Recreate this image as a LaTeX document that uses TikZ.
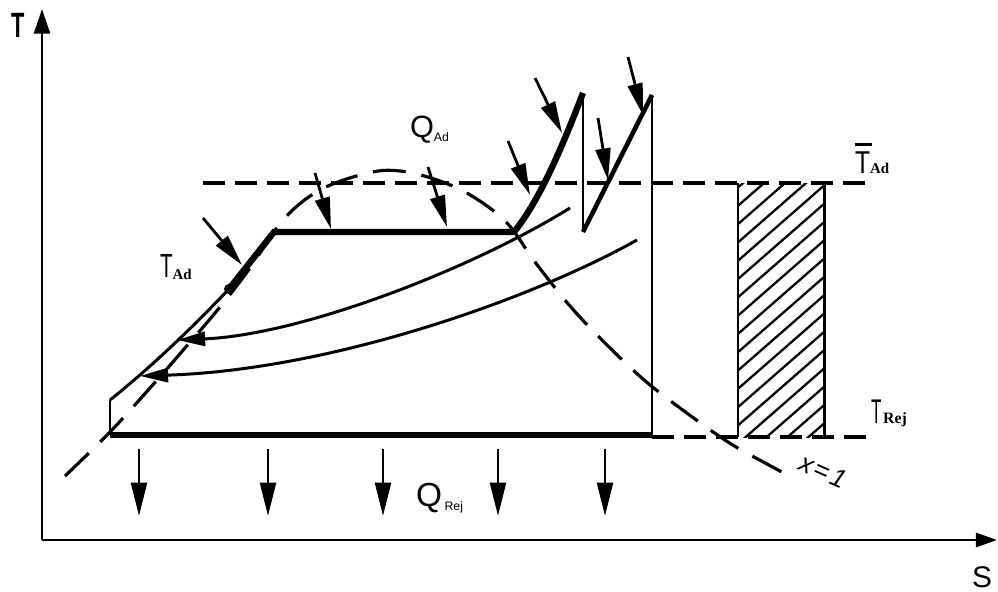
\documentclass[tikz,border=0pt]{standalone}
\usepackage{fontspec}
\setmainfont{Liberation Sans}
\newfontfamily\serifb{Liberation Serif}
\usetikzlibrary{arrows.meta}
\tikzset{
  axisln/.style={line width=1.7pt},
  thinln/.style={line width=1.7pt},
  medln/.style={line width=2.6pt},
  thickln/.style={line width=3.6pt},
  dashln/.style={line width=1.8pt, dash pattern=on 0.44cm off 0.2cm},
  domeln/.style={line width=1.8pt, dash pattern=on 0.66cm off 0.32cm},
  hatchln/.style={line width=1.3pt},
  qarrow/.style={line width=1.6pt, -{Triangle[length=18pt,width=8.5pt]}},
  rejarrow/.style={line width=1.7pt, -{Triangle[length=19pt,width=9pt]}},
  flowarrow/.style={line width=1.7pt, -{Triangle[length=16pt,width=8pt]}},
  lab/.style={anchor=base west, inner sep=0pt, outer sep=0pt}
}
\begin{document}
\begin{tikzpicture}[x=0.02cm, y=-0.02cm]
\useasboundingbox (0,0) rectangle (998,592);

% axes
\coordinate (O) at (42,540);
\coordinate (Ttop) at (42,9);
\coordinate (Send) at (997,540);
\draw[axisln, -{Triangle[length=14pt,width=9pt]}] (O) -- (Ttop);
\draw[axisln, -{Triangle[length=12pt,width=8pt]}] (O) -- (Send);
\node[lab] (Tlab) at (11,37) {\fontsize{20}{20}\selectfont\bfseries\scalebox{0.62}[1]{T}};
\node[lab] (Slab) at (972,587) {\fontsize{17}{17}\selectfont S};

% key points
\coordinate (A) at (110,435);
\coordinate (B) at (110,400);
\coordinate (C) at (229,289);
\coordinate (D) at (274,232);
\coordinate (E) at (514,232);
\coordinate (F) at (583,93);
\coordinate (G) at (583,232);
\coordinate (H) at (652,95);
\coordinate (I) at (652,435);

% saturation dome
\draw[domeln] plot[smooth, tension=0.6] coordinates {
 (65,476) (110,432) (150,388) (185,348) (220,307) (250,268) (283,220)
 (320,190) (368,173) (400,171) (437,180) (472,196) (507,223) (535,262)
 (570,306) (605,343) (643,379) (680,408) (728,442) (767,464) (795,479)};

% dashed temperature levels
\coordinate (TadL) at (203,183);
\coordinate (TadR) at (868,183);
\coordinate (TrejL) at (652,437);
\coordinate (TrejR) at (867,437);
\draw[dashln] (TadL) -- (TadR);
\draw[dashln] (TrejL) -- (TrejR);

% cycle outline
\draw[thinln] (A) -- (B);
\draw[thinln] (B) .. controls (150,368) and (190,330) .. (C);
\draw[thickln, line join=miter] (C) -- (D) -- (E);
\draw[thickln] (E) .. controls (540,200) and (563,145) .. (F);
\draw[thinln] (F) -- (G);
\draw[medln] (G) -- (H);
\draw[thinln] (H) -- (I);
\draw[thickln] (I) -- (A);
\fill (C) circle (5);

% bleed flows
\coordinate (f1s) at (570,208);
\coordinate (f1e) at (177,340);
\coordinate (f2s) at (637,240);
\coordinate (f2e) at (140,376);
\draw[flowarrow] (f1s) .. controls (470,270) and (300,335) .. (f1e);
\draw[flowarrow] (f2s) .. controls (530,300) and (330,370) .. (f2e);

% heat addition arrows
\draw[qarrow] (203,218) -- (242,265);
\draw[qarrow] (315,173) -- (331,229);
\draw[qarrow] (428,167) -- (447,227);
\draw[qarrow] (508,141) -- (530,195);
\draw[qarrow] (535,78) -- (562,133);
\draw[qarrow] (598,118) -- (608,180);
\draw[qarrow] (628,57) -- (643,115);

% heat rejection arrows
\foreach \xx in {139,268,383,498,605} {
  \draw[rejarrow] (\xx,449) -- (\xx,516);
}

% hatched rectangle
\coordinate (R1) at (738,183);
\coordinate (R2) at (738,437);
\coordinate (R3) at (824,183);
\coordinate (R4) at (824,437);
\begin{scope}
  \clip (R1) rectangle (R4);
  \foreach \k in {-6,...,13} {
    \draw[hatchln] (738,{279+18.3*\k}) -- ++(87,-76);
  }
\end{scope}
\draw[thinln] (R1) -- (R2);
\draw[thinln] (R3) -- (R4);

% labels
\node[lab] (TAd) at (160,277) {\fontsize{19}{19}\selectfont\scalebox{0.62}[1]{T}\raisebox{-1.7pt}{\serifb\bfseries\fontsize{8.5}{8.5}\selectfont Ad}};
\node[lab] (QAd) at (410,137) {\fontsize{17.5}{17.5}\selectfont Q\raisebox{-2.3pt}{\fontsize{7}{7}\selectfont Ad}};
\node[lab] (QRej) at (416,506) {\fontsize{19}{19}\selectfont Q\hspace{1.5pt}\raisebox{-2.3pt}{\fontsize{7}{7}\selectfont Rej}};
\node[lab] (TbAd) at (855,173) {\fontsize{18}{18}\selectfont\rlap{\raisebox{15.3pt}{\rule{9.6pt}{1.7pt}}}\scalebox{0.78}[1]{T}\serifb\bfseries\fontsize{8.5}{8.5}\selectfont Ad};
\node[lab] (TRej) at (871,423) {\fontsize{19.5}{19.5}\selectfont\scalebox{0.5}[1]{T}\hspace{1pt}\serifb\bfseries\fontsize{9}{9}\selectfont Rej};
\node[inner sep=0pt, rotate=-24] (x1) at (823,471) {\fontsize{15}{15}\selectfont\itshape x\kern1.5pt=\kern1.5pt1};
\end{tikzpicture}
\end{document}
